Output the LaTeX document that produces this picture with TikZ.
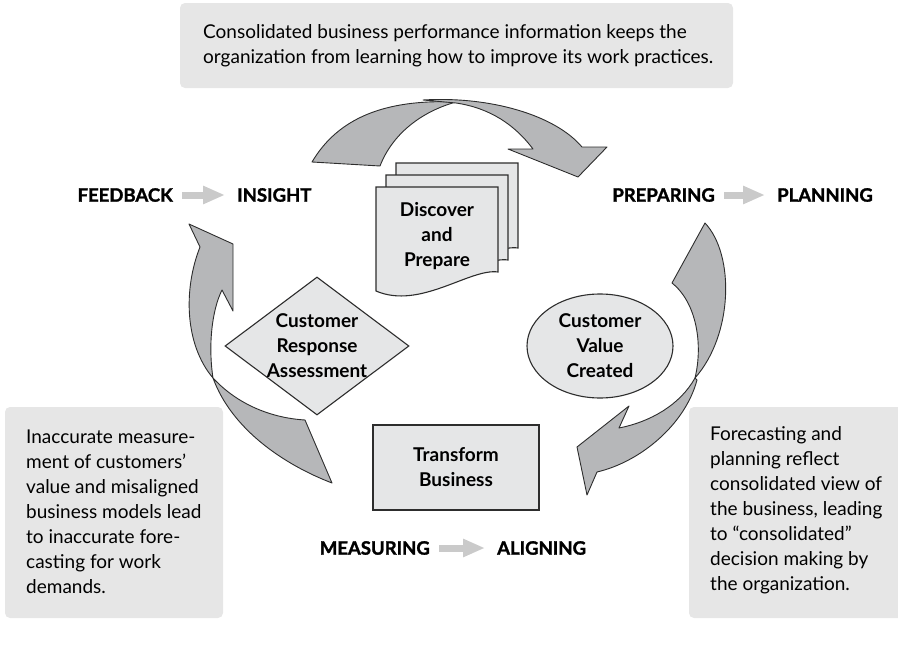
\documentclass[tikz,border=0pt]{standalone}
\usepackage{fontspec}
\setmainfont{Lato}
\newfontfamily\stagefont[BoldFeatures={FakeBold=1.5}]{Lato}
\usepackage{tikz}
\usetikzlibrary{positioning,shapes.geometric,arrows.meta}
\definecolor{NoteGray}{RGB}{230,230,230}
\definecolor{BlockGray}{RGB}{229,230,231}
\definecolor{RibbonGray}{RGB}{182,183,185}
\definecolor{LinkGray}{RGB}{202,202,202}
\definecolor{EdgeDark}{RGB}{45,45,45}
\newcommand*\DocPage[1]{\draw[block,shift={#1}] (376,187) -- (498,187) -- (498,272) .. controls (470,268) and (420,310) .. (376,291) -- cycle;}

\begin{document}
\begin{tikzpicture}[x=1pt,y=-1pt,
		notebox/.style={fill=NoteGray,rounded corners=5pt},
		note/.style={anchor=west,align=left,inner sep=0pt,font=\fontsize{19}{25}\selectfont},
		stage/.style={inner sep=0pt,font=\stagefont\fontsize{18.5}{22}\selectfont\bfseries},
		link/.style={LinkGray,line width=7pt,-{Triangle[width=17pt,length=22pt]},shorten <=9pt,shorten >=12pt},
		block/.style={draw=EdgeDark,fill=BlockGray,line width=1.1pt},
		blocktext/.style={align=center,inner sep=0pt,font=\fontsize{19}{25}\selectfont\bfseries},
		ribbon/.style={draw=EdgeDark,fill=RibbonGray,line width=0.9pt,line join=round}]
	\useasboundingbox (0,0) rectangle (898,645);

	\fill[notebox] (180,3) rectangle (733,88);
	\fill[notebox] (5,407) rectangle (223,618);
	\fill[notebox] (689,407) rectangle (907,618);
	\node[note] (topnote) at (203,45.5)
		{Consolidated business performance information keeps the\\organization from learning how to improve its work practices.};
	\node[note] (leftnote) at (26,512)
		{Inaccurate measure-\\ment of customers'\\value and misaligned\\business models lead\\to inaccurate fore-\\casting for work\\demands.};
	\node[note] (rightnote) at (710,510)
		{Forecasting and\\planning reflect\\consolidated view of\\the business, leading\\to ``consolidated''\\decision making by\\the organization.};

	\node[stage,anchor=east] (feedback) at (173,195) {FEEDBACK};
	\node[stage,right=64pt of feedback] (insight) {INSIGHT};
	\node[stage,anchor=east] (preparing) at (715,195) {PREPARING};
	\node[stage,right=62pt of preparing] (planning) {PLANNING};
	\node[stage,anchor=east] (measuring) at (430,548) {MEASURING};
	\node[stage,right=67pt of measuring] (aligning) {ALIGNING};
	\draw[link] (feedback) -- (insight);
	\draw[link] (preparing) -- (planning);
	\draw[link] (measuring) -- (aligning);

	\draw[ribbon] (312,162) .. controls (338,118) and (385,99) .. (456,102) .. controls (420,112) and (392,135) .. (380,166) -- cycle;
	\draw[ribbon] (423,100) .. controls (490,96) and (555,115) .. (582,147) -- (607,147) -- (578,177) -- (508,149) -- (533,149) .. controls (515,125) and (490,108) .. (456,103) -- cycle;
	\draw[ribbon] (705,223) .. controls (735,255) and (733,335) .. (695,378) .. controls (703,345) and (697,303) .. (672,283) -- cycle;
	\draw[ribbon] (695,378) .. controls (680,405) and (650,422) .. (619,428) -- (629,406) -- (577,447) -- (587,495) -- (597,472) .. controls (640,462) and (685,425) .. (697,380) -- cycle;
	\draw[ribbon] (200,247) .. controls (183,290) and (185,345) .. (213,378) .. controls (208,345) and (212,310) .. (222,290) -- (233,311) -- (233,244) -- (189,224) -- cycle;
	\draw[ribbon] (213,378) .. controls (238,405) and (272,418) .. (305,420) -- (332,483) .. controls (285,465) and (232,430) .. (213,378) -- cycle;

	\DocPage{(20,-24)}
	\DocPage{(10,-12)}
	\DocPage{(0,0)}
	\node[blocktext] (discover) at (437,236) {Discover\\and\\Prepare};
	\node[block,diamond,minimum width=184pt,minimum height=138pt,inner sep=0pt,
		label={[blocktext]center:{Customer\\Response\\Assessment}}] (assess) at (317,346) {};
	\node[block,ellipse,minimum width=146pt,minimum height=104pt,inner sep=0pt,
		label={[blocktext]center:{Customer\\Value\\Created}}] (value) at (600,346) {};
	\node[block,blocktext,minimum width=166pt,minimum height=85pt] (transform) at (456,467.5) {Transform\\Business};
\end{tikzpicture}
\end{document}
